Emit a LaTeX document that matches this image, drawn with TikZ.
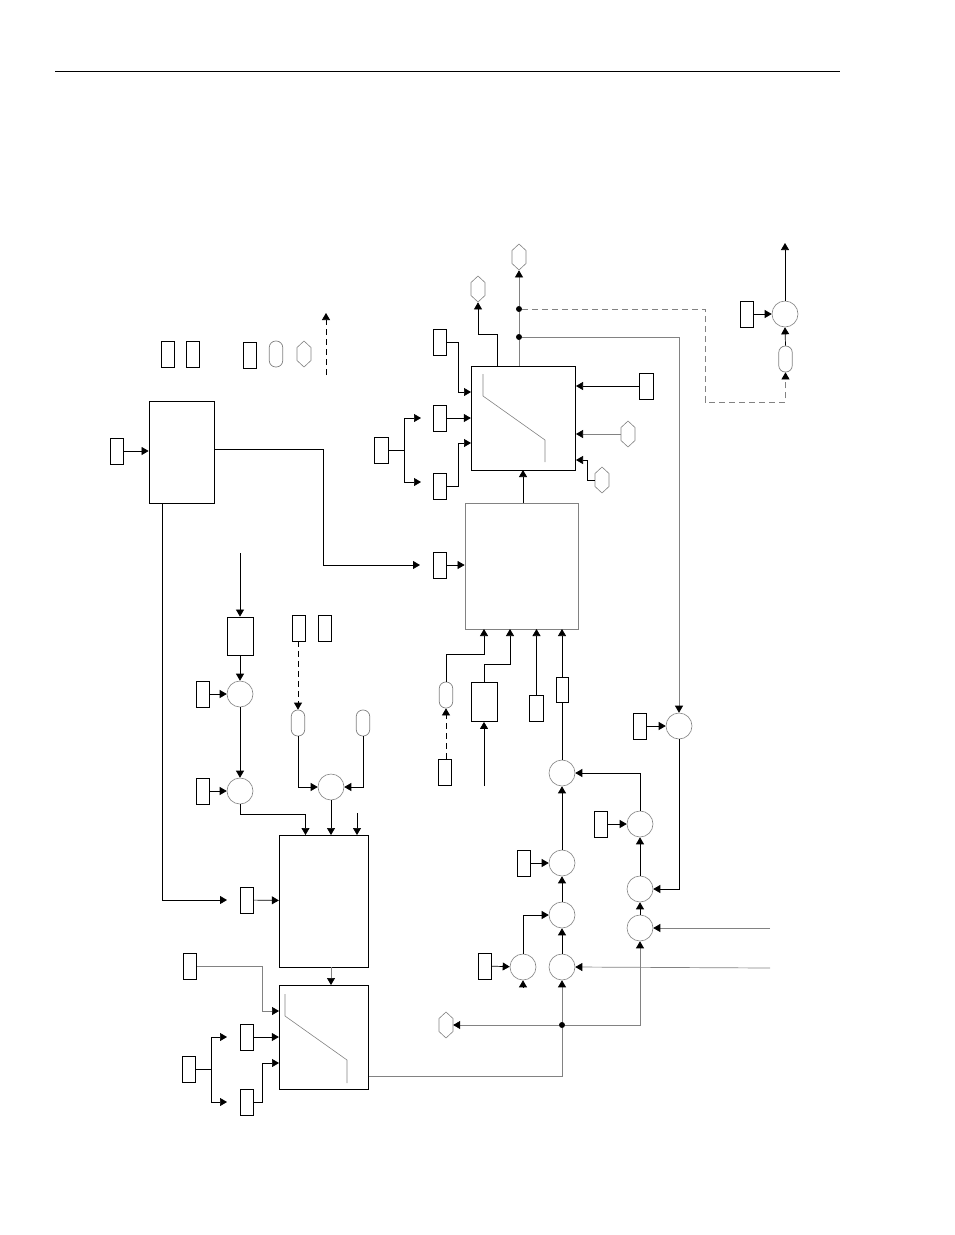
\documentclass[tikz,border=0pt]{standalone}
\usepackage{xcolor}
\usepackage{tikz}
\usetikzlibrary{arrows.meta,shapes.geometric}
\definecolor{linegray}{RGB}{130,130,130}

\begin{document}
\begin{tikzpicture}[
    x=1pt, y=-1pt,
    tag/.style={draw, line width=0.8pt, inner sep=0pt, minimum width=13.5pt, minimum height=26pt},
    blockbox/.style={draw, line width=0.8pt, inner sep=0pt},
    sum/.style={draw=linegray, line width=0.6pt, circle, inner sep=0pt, minimum size=26pt},
    oval/.style={draw=linegray, line width=0.7pt, rounded corners=6.5pt, inner sep=0pt, minimum width=13.5pt, minimum height=26pt},
    hexa/.style={draw=linegray, line width=0.6pt, regular polygon, regular polygon sides=6, regular polygon rotate=30, inner sep=0pt, minimum size=26pt, xscale=0.62, transform shape},
    dot/.style={fill, circle, inner sep=0pt, minimum size=6pt},
    arrow/.style={-{Triangle[length=7pt,width=8pt]}, line width=0.7pt},
    feed/.style={-{Triangle[length=7pt,width=8pt,color=black]}, line width=0.7pt, draw=linegray},
    guard/.style={arrow, dash pattern=on 6pt off 4pt},
    curve/.style={draw=linegray, line width=0.6pt}
]
\useasboundingbox (0,0) rectangle (954,1235);

\coordinate (ruleL) at (55,71);
\coordinate (ruleR) at (840,71);
\draw[line width=0.7pt] (ruleL) -- (ruleR);

% legend
\node[tag] (lega) at (168,354) {};
\node[tag] (legb) at (193,354) {};
\node[tag] (legc) at (250,355) {};
\node[oval] (legd) at (276,354) {};
\node[hexa] (lege) at (304,354) {};
\coordinate (legf) at (326,375);
\coordinate (legg) at (326,313);
\draw[guard] (legf) -- (legg);

% upper switch and its inputs
\node[blockbox, minimum width=104.5pt, minimum height=104pt] (swa) at (523.5,418) {};
\draw[curve] (483,374) -- (483,396) -- (545,440) -- (545,462);
\node[tag] (ka) at (440,342) {};
\node[tag] (kb) at (440,418) {};
\node[tag] (kc) at (440,486) {};
\node[tag] (kd) at (381.5,450) {};
\node[tag] (ke) at (646.5,386) {};
\node[hexa] (ha) at (628,434) {};
\node[hexa] (hb) at (602,480) {};
\node[hexa] (hc) at (478,289) {};
\node[hexa] (hd) at (519,257) {};
\node[dot] (da) at (519,309) {};
\node[dot] (db) at (519,337) {};
\coordinate (swa1) at (471,392);
\coordinate (swa3) at (471,443);
\coordinate (swaout) at (497,366);
\coordinate (swatop) at (519,366);
\coordinate (swr1) at (576,386);
\coordinate (swr2) at (576,434);
\coordinate (swr3) at (576,460);
\coordinate (fka) at (421,418);
\coordinate (fkb) at (421,482);

\draw[arrow] (ka.east) -- ++(11,0) |- (swa1);
\draw[arrow] (kb) -- (swa);
\draw[arrow] (kc.east) -- ++(11,0) |- (swa3);
\draw[line width=0.7pt] (kd.east) -- ++(16,0) coordinate (fork);
\draw[arrow] (fork) |- (fka);
\draw[arrow] (fork) |- (fkb);
\draw[arrow] (ke.west) -- (swr1);
\draw[feed] (ha.west) -- (swr2);
\draw[arrow] (hb.west) -- ++(-7,0) |- (swr3);
\draw[arrow] (swaout) |- (478,334) -- (hc.south);
\draw[draw=linegray, line width=0.7pt] (swatop) -- (db);
\draw[draw=linegray, line width=0.7pt] (db) -- (da);
\draw[feed] (da) -- (hd.south);

% upper right
\node[sum] (sa) at (785,314) {};
\node[tag] (kf) at (747,314) {};
\node[oval] (oa) at (785.5,359) {};
\coordinate (topout) at (785,243);
\draw[arrow] (kf) -- (sa);
\draw[arrow] (oa.north) -- (sa.south);
\draw[arrow] (sa.north) -- (topout);
\draw[feed, dash pattern=on 6pt off 4pt] (da) -- (705,309) -- (705,402) -| (oa.south);

% processing blocks
\node[blockbox, draw=linegray, minimum width=113pt, minimum height=126pt] (proc) at (521.5,566) {};
\node[blockbox, minimum width=65pt, minimum height=102pt] (left) at (181.5,452) {};
\node[tag] (kg) at (117,451) {};
\node[tag] (kh) at (440,565) {};
\coordinate (procout) at (523,503);
\coordinate (swain) at (523,470);
\coordinate (leftr) at (214,449);
\coordinate (leftb) at (162,503);
\coordinate (khin) at (420,565);
\coordinate (kiin) at (227,900);
\draw[arrow] (procout) -- (swain);
\draw[arrow] (kg) -- (left.west |- kg);
\draw[arrow] (kh) -- (proc.west |- kh);
\draw[arrow, line width=0.8pt] (leftr) -| (323,565) -- (khin);
\draw[arrow, line width=0.8pt] (leftb) |- (kiin);

% inputs under the upper block
\node[oval] (ob) at (446,695) {};
\node[tag, minimum width=26pt, minimum height=39pt] (ga) at (484,702) {};
\node[tag] (ki) at (536.5,708) {};
\node[tag, minimum width=12pt, minimum height=25pt] (kj) at (562,690) {};
\node[tag] (kk) at (445,772) {};
\coordinate (pa) at (484,629);
\coordinate (pb) at (510,629);
\coordinate (pc) at (536.5,629);
\coordinate (pd) at (562,629);
\coordinate (gain) at (484,786);
\draw[arrow] (ob.north) |- (446,654) -| (pa);
\draw[arrow] (ga.north) |- (484,664) -| (pb);
\draw[arrow] (ki.north) -- (pc);
\draw[arrow] (kj.north) -- (pd);
\draw[arrow] (gain) -- (ga.south);
\draw[guard] (446,759) -- (ob.south);

% summing chain on the right
\node[sum] (sb) at (562,773) {};
\node[sum] (sc) at (562,863) {};
\node[sum] (sd) at (562,915) {};
\node[sum] (se) at (562,967) {};
\node[sum] (sf) at (523,967) {};
\node[sum] (sg) at (640,824) {};
\node[sum] (sh) at (640,889) {};
\node[sum] (si) at (640,928) {};
\node[sum] (sj) at (679,726) {};
\node[tag] (kl) at (524,863) {};
\node[tag] (km) at (485,966) {};
\node[tag] (kn) at (601,824) {};
\node[tag] (ko) at (640,726) {};
\node[dot] (dc) at (562,1025) {};
\node[hexa] (he) at (446,1025) {};
\coordinate (ina) at (770,928);
\coordinate (inb) at (770,968);
\coordinate (sfin) at (523,987);
\draw[line width=0.7pt] (sb.north) -- (kj.south);
\draw[arrow] (sc.north) -- (sb.south);
\draw[arrow] (sd.north) -- (sc.south);
\draw[arrow] (se.north) -- (sd.south);
\draw[arrow] (sf.north) |- (sd.west);
\draw[arrow] (sfin) -- (sf.south);
\draw[arrow] (kl) -- (sc);
\draw[arrow] (km) -- (sf);
\draw[arrow] (kn) -- (sg);
\draw[arrow] (ko) -- (sj);
\draw[arrow] (sg.north) |- (sb.east);
\draw[arrow] (sh.north) -- (sg.south);
\draw[arrow] (si.north) -- (sh.south);
\draw[arrow] (sj.south) |- (sh.east);
\draw[feed] (ina) -- (si.east);
\draw[feed] (inb) -- (se.east);
\draw[feed] (db) -| (sj.north);
\draw[feed] (dc) -- (se.south);
\draw[feed] (dc) -| (si.south);
\draw[feed] (dc) -- (he.east);

% lower left chain
\coordinate (gbin) at (240,553);
\node[tag, minimum width=26pt, minimum height=38pt] (gb) at (240,636) {};
\node[sum] (sk) at (240,694) {};
\node[sum] (sl) at (240,791) {};
\node[sum] (sm) at (331,787) {};
\node[tag] (kp) at (203,694) {};
\node[tag] (kq) at (203,791) {};
\node[tag] (kr) at (299,628) {};
\node[tag] (ks) at (325,628) {};
\node[oval] (oc) at (298,723) {};
\node[oval] (od) at (363,723) {};
\coordinate (loa) at (305.5,835);
\coordinate (lob) at (331,835);
\coordinate (loc) at (357,835);
\coordinate (locin) at (357,813);
\draw[arrow] (gbin) -- (gb.north);
\draw[arrow] (gb.south) -- (sk.north);
\draw[arrow] (sk.south) -- (sl.north);
\draw[arrow] (kp) -- (sk);
\draw[arrow] (kq) -- (sl);
\draw[guard] (298,641) -- (oc.north);
\draw[arrow] (oc.south) |- (sm.west);
\draw[arrow] (od.south) |- (sm.east);
\draw[arrow] (sl.south) |- (305.5,814) -- (loa);
\draw[arrow] (sm.south) -- (lob);
\draw[arrow] (locin) -- (loc);

% lower blocks
\node[blockbox, minimum width=89.5pt, minimum height=132pt] (proa) at (324,901) {};
\node[blockbox, minimum width=89.5pt, minimum height=104pt] (swb) at (324,1037) {};
\draw[curve] (285,994) -- (285,1016) -- (347,1060) -- (347,1083);
\node[tag] (kt) at (247,900) {};
\node[tag] (ku) at (190,966) {};
\node[tag] (kv) at (247,1037) {};
\node[tag] (kw) at (247,1102) {};
\node[tag] (kx) at (189,1069) {};
\coordinate (proaout) at (331,967);
\coordinate (swbin) at (331,985);
\coordinate (swb1) at (279,1011);
\coordinate (swb3) at (279,1063);
\coordinate (swbout) at (369,1076);
\coordinate (fkc) at (227,1037);
\coordinate (fkd) at (227,1102);
\draw[arrow] (kt) -- (proa);
\draw[feed] (proaout) -- (swbin);
\draw[feed] (ku.east) -- ++(65,0) |- (swb1);
\draw[arrow] (kv) -- (swb);
\draw[arrow] (kw.east) -- ++(8,0) |- (swb3);
\draw[line width=0.7pt] (kx.east) -- ++(15,0) coordinate (forkb);
\draw[arrow] (forkb) |- (fkc);
\draw[arrow] (forkb) |- (fkd);
\draw[draw=linegray, line width=0.7pt] (swbout) -| (dc);

\end{tikzpicture}
\end{document}
